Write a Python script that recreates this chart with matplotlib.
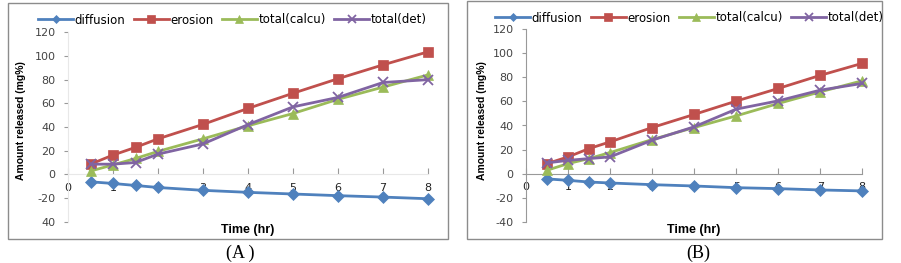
import matplotlib
matplotlib.use('Agg')
import matplotlib.pyplot as plt
from matplotlib.patches import Rectangle

time_hr = [0.5, 1, 1.5, 2, 3, 4, 5, 6, 7, 8]

# panel A
diff_a = [-6.3, -7.7, -9.4, -11.1, -13.5, -15.2, -16.6, -18.0, -19.2, -20.6]
eros_a = [8.6, 16.3, 22.8, 30.0, 42.2, 55.7, 68.5, 80.8, 92.5, 103.5]
calc_a = [2.8, 8.0, 13.4, 19.4, 30.0, 41.0, 51.4, 63.4, 73.7, 84.0]
det_a = [8.6, 8.6, 10.0, 17.1, 25.7, 42.0, 57.0, 65.0, 77.6, 80.0]

# panel B
diff_b = [-4.4, -5.6, -7.0, -7.8, -9.2, -10.3, -11.7, -12.5, -13.6, -14.4]
eros_b = [8.3, 13.9, 20.8, 26.4, 38.3, 49.2, 60.3, 70.8, 81.7, 91.7]
calc_b = [2.8, 8.3, 12.5, 17.5, 28.3, 38.3, 48.0, 58.3, 68.0, 77.2]
det_b = [8.9, 11.0, 12.5, 13.9, 27.8, 38.9, 53.6, 60.5, 69.4, 75.0]

ytick_a = ['40', '-20', '0', '20', '40', '60', '80', '100', '120']
ytick_b = ['-40', '-20', '0', '20', '40', '60', '80', '100', '120']

labels = ['diffusion', 'erosion', 'total(calcu)', 'total(det)']
colors = ['#4F81BD', '#C0504D', '#9BBB59', '#8064A2']
markers = ['D', 's', '^', 'x']
msizes = [6, 7.5, 7.5, 7.5]

fig = plt.figure(figsize=(9.01, 2.63), dpi=100)


def panel(rect, series, yticks, axcolor, frame, legend_pos, ylab_x, caption, cap_x):
    fig.patches.append(Rectangle(frame[:2], frame[2], frame[3], transform=fig.transFigure,
                                 fill=False, edgecolor='#8c8c8c', linewidth=1.0))
    ax = fig.add_axes(rect)
    for y, lab, c, m, ms in zip(series, labels, colors, markers, msizes):
        ax.plot(time_hr, y, color=c, marker=m, markersize=ms, linewidth=2,
                markeredgewidth=1.3 if m == 'x' else 0.5, markeredgecolor=c,
                label=lab, clip_on=False, zorder=3)
    ax.set_xlim(0, 8)
    ax.set_ylim(-40, 120)
    ax.set_yticks(range(-40, 121, 20))
    ax.set_yticklabels(yticks)
    ax.set_xticks(range(0, 9))
    for s in ['top', 'right']:
        ax.spines[s].set_visible(False)
    ax.spines['bottom'].set_position(('data', 0))
    ax.spines['bottom'].set_color(axcolor)
    ax.spines['left'].set_color(axcolor)
    ax.tick_params(axis='x', direction='in', length=4, pad=6, color='#999999',
                   labelsize=8, labelcolor='#222222')
    ax.tick_params(axis='y', direction='out', length=3, pad=6, color='#999999',
                   labelsize=8, labelcolor='#444444')
    ax.patch.set_alpha(0)
    fig.text((rect[0] + rect[2] / 2), 1 - 230 / 263, 'Time (hr)', ha='center', va='center',
             fontsize=9, fontweight='bold', family='Liberation Sans')
    fig.text(ylab_x, 1 - 121 / 263, 'Amount released (mg%)', rotation=90, ha='center',
             va='center', fontsize=7.5, fontweight='bold', family='Liberation Sans')
    fig.legend(*ax.get_legend_handles_labels(), loc='center left', bbox_to_anchor=legend_pos,
               ncol=4, frameon=False, fontsize=8.5, handlelength=3.0, handletextpad=0.1,
               columnspacing=0.7, borderaxespad=0, borderpad=0, markerscale=0.7)
    fig.text(cap_x, 1 - 253 / 263, caption, ha='center', va='center', fontsize=13,
             family='Liberation Serif')
    return ax


panel([68 / 901, 1 - 221.7 / 263, 360 / 901, 189.4 / 263],
      [diff_a, eros_a, calc_a, det_a], ytick_a, '#e8e8e8',
      (8 / 901, 1 - 239 / 263, 440 / 901, 236 / 263),
      (38 / 901, 1 - 20 / 263), 21 / 901, '(A )', 240 / 901)

panel([526 / 901, 1 - 221.7 / 263, 336.3 / 901, 192.4 / 263],
      [diff_b, eros_b, calc_b, det_b], ytick_b, '#999999',
      (467 / 901, 1 - 239 / 263, 415 / 901, 238 / 263),
      (495 / 901, 1 - 18 / 263), 482 / 901, '(B)', 698 / 901)

fig.savefig('out.png', dpi=100)
